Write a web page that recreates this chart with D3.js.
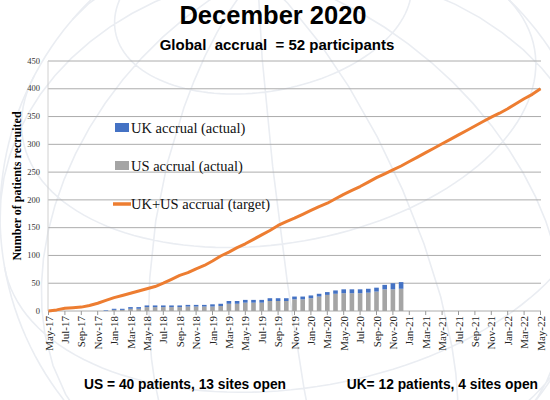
<!DOCTYPE html>
<html>
<head>
<meta charset="utf-8">
<script src="https://cdn.jsdelivr.net/npm/d3@7"></script>
<style>
  body { margin: 0; background: #fff; }
  svg { display: block; }
  .sans { font-family: "Liberation Sans", Arial, sans-serif; font-weight: bold; }
  .serif { font-family: "Liberation Serif", "Times New Roman", serif; }
</style>
</head>
<body>
<div id="chart"></div>
<script>
// categories: one per month, May-17 .. May-22
var months = ["May-17","Jun-17","Jul-17","Aug-17","Sep-17","Oct-17","Nov-17","Dec-17",
  "Jan-18","Feb-18","Mar-18","Apr-18","May-18","Jun-18","Jul-18","Aug-18","Sep-18","Oct-18","Nov-18","Dec-18",
  "Jan-19","Feb-19","Mar-19","Apr-19","May-19","Jun-19","Jul-19","Aug-19","Sep-19","Oct-19","Nov-19","Dec-19",
  "Jan-20","Feb-20","Mar-20","Apr-20","May-20","Jun-20","Jul-20","Aug-20","Sep-20","Oct-20","Nov-20","Dec-20",
  "Jan-21","Feb-21","Mar-21","Apr-21","May-21","Jun-21","Jul-21","Aug-21","Sep-21","Oct-21","Nov-21","Dec-21",
  "Jan-22","Feb-22","Mar-22","Apr-22","May-22"]

// target line (UK+US), one value per month
var target = [0,2,5,6,7,10,14,19,24,28,32,36,40,44,50,57,64,69,76,82,
  90,99,106,114,121,129,137,145,154,161,167,174,181,188,194,202,210,217,224,232,
  240,247,254,261,269,277,285,293,301,309,317,325,333,341,349,356,364,373,382,390,400]

// actual accrual bars, Dec-17 .. Dec-20
var barMonths = ["Dec-17",
  "Jan-18","Feb-18","Mar-18","Apr-18","May-18","Jun-18","Jul-18","Aug-18","Sep-18","Oct-18","Nov-18","Dec-18",
  "Jan-19","Feb-19","Mar-19","Apr-19","May-19","Jun-19","Jul-19","Aug-19","Sep-19","Oct-19","Nov-19","Dec-19",
  "Jan-20","Feb-20","Mar-20","Apr-20","May-20","Jun-20","Jul-20","Aug-20","Sep-20","Oct-20","Nov-20","Dec-20"]
var usActual = [0, 2,2,4,4,7,7,7,7,7,8,8,8, 8,9,13,13,15,15,15,18,18,18,21,21, 23,26,29,31,32,32,32,33,35,39,39,40]
var ukActual = [1, 2,2,3,3,3,3,3,3,3,3,3,3, 4,4,5,5,5,5,5,5,5,5,5,5, 5,5,5,6,7,7,7,7,7,8,11,12]

var yTicks = [0,50,100,150,200,250,300,350,400,450]
var legendItems = [
  {label:"UK accrual (actual)", color:"#4472c4", kind:"box"},
  {label:"US accrual (actual)", color:"#a5a5a5", kind:"box"},
  {label:"UK+US accrual (target)", color:"#ed7d31", kind:"line"}
]

var W = 550, H = 400
var svg = d3.select('#chart').append('svg').attr('width', W).attr('height', H)

// faint globe in the background
var proj = d3.geoOrthographic().scale(300).translate([300, 215]).rotate([25, -35, 10])
var geoPath = d3.geoPath(proj)
svg.append('path')
  .datum(d3.geoGraticule().step([30, 30])())
  .attr('d', geoPath)
  .attr('fill', 'none').attr('stroke', '#eaedf2').attr('stroke-width', 1.6)
svg.append('path')
  .datum({type:'Sphere'})
  .attr('d', geoPath)
  .attr('fill', 'none').attr('stroke', '#eaedf2').attr('stroke-width', 1.6)

var x = d3.scalePoint().domain(months).range([48.5, 540.5])
var y = d3.scaleLinear().domain([0, 450]).range([311, 61])

// gridlines
svg.append('g').selectAll('line').data(yTicks).join('line')
  .attr('x1', 48).attr('x2', 541)
  .attr('y1', d => y(d)).attr('y2', d => y(d))
  .attr('stroke', '#acacac').attr('stroke-width', 1)
svg.append('line').attr('x1', 48).attr('x2', 48).attr('y1', y(450)).attr('y2', y(0))
  .attr('stroke', '#d0d0d0')

// y tick labels
svg.append('g').selectAll('text').data(yTicks).join('text')
  .attr('class', 'serif')
  .attr('x', 40).attr('y', d => y(d)).attr('dy', '0.32em')
  .attr('text-anchor', 'end').attr('font-size', 8.5).attr('fill', '#333')
  .text(d => d)

// x ticks + labels, every other month
var labelMonths = months.filter((m, i) => i % 2 == 0)
var xAxis = svg.append('g')
xAxis.selectAll('line').data(labelMonths).join('line')
  .attr('x1', d => x(d)).attr('x2', d => x(d))
  .attr('y1', 311).attr('y2', 315)
  .attr('stroke', '#999')
xAxis.selectAll('text').data(labelMonths).join('text')
  .attr('class', 'serif')
  .attr('transform', d => 'translate(' + (x(d) + 4) + ',316) rotate(-90)')
  .attr('text-anchor', 'end').attr('font-size', 11).attr('fill', '#222')
  .text(d => d)

// stacked bars
var bw = 4.6
var bars = svg.append('g')
bars.selectAll('rect.us').data(barMonths).join('rect')
  .attr('class', 'us')
  .attr('x', d => x(d) - bw / 2).attr('width', bw)
  .attr('y', (d, i) => y(usActual[i]))
  .attr('height', (d, i) => y(0) - y(usActual[i]))
  .attr('fill', '#a5a5a5')
bars.selectAll('rect.uk').data(barMonths).join('rect')
  .attr('class', 'uk')
  .attr('x', d => x(d) - bw / 2).attr('width', bw)
  .attr('y', (d, i) => y(usActual[i] + ukActual[i]))
  .attr('height', (d, i) => y(usActual[i]) - y(usActual[i] + ukActual[i]))
  .attr('fill', '#4472c4')

// target line
var line = d3.line().x((d, i) => x(months[i])).y(d => y(d))
svg.append('path').datum(target)
  .attr('d', line)
  .attr('fill', 'none').attr('stroke', '#ed7d31').attr('stroke-width', 3)
  .attr('stroke-linejoin', 'round')

// legend
var lg = svg.append('g').attr('transform', 'translate(113,128)')
legendItems.forEach(function(it, i){
  var g = lg.append('g').attr('transform', 'translate(0,' + (i * 38) + ')')
  if(it.kind == 'box')
    g.append('rect').attr('x', 2).attr('y', -5).attr('width', 14).attr('height', 9).attr('fill', it.color)
  else
    g.append('line').attr('x1', 0).attr('x2', 18).attr('y1', 0).attr('y2', 0)
      .attr('stroke', it.color).attr('stroke-width', 3.5)
  g.append('text').attr('class', 'serif')
    .attr('x', 18).attr('y', 0).attr('dy', '0.35em')
    .attr('font-size', 14.5).attr('fill', '#111')
    .text(it.label)
})

// y axis title
svg.append('text').attr('class', 'serif')
  .attr('transform', 'translate(21,186) rotate(-90)')
  .attr('text-anchor', 'middle').attr('font-size', 12).attr('font-weight', 'bold')
  .text('Number of patients recruited')

// titles
svg.append('text').attr('class', 'sans')
  .attr('x', 273).attr('y', 24).attr('text-anchor', 'middle').attr('font-size', 25.5)
  .text('December 2020')
svg.append('text').attr('class', 'sans')
  .attr('x', 277).attr('y', 50).attr('text-anchor', 'middle').attr('font-size', 15)
  .attr('xml:space', 'preserve').style('white-space', 'pre')
  .text('Global  accrual  = 52 participants')

// footnotes
svg.append('text').attr('class', 'sans')
  .attr('x', 84).attr('y', 389).attr('font-size', 13.8)
  .text('US = 40 patients, 13 sites open')
svg.append('text').attr('class', 'sans')
  .attr('x', 538).attr('y', 389).attr('text-anchor', 'end').attr('font-size', 13.8)
  .text('UK= 12 patients, 4 sites open')
</script>
</body>
</html>
